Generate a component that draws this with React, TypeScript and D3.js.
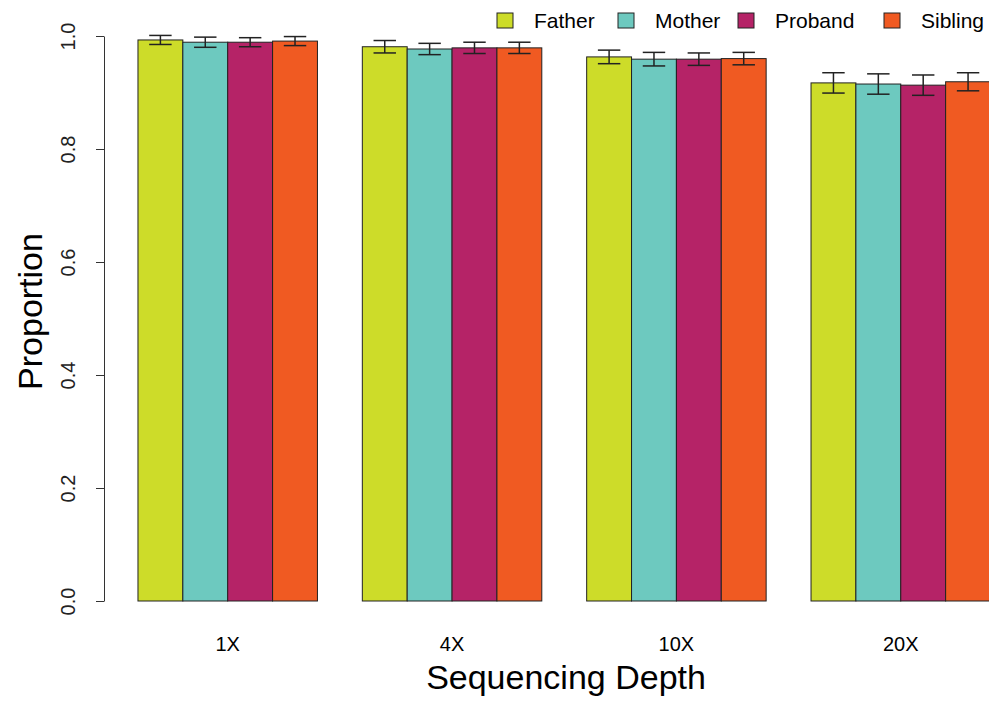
import * as d3 from "d3";
import { useEffect, useRef } from "react";

const depths = ["1X", "4X", "10X", "20X"];
const members = ["Father", "Mother", "Proband", "Sibling"];
const colors = ["#CDDC29", "#6DC9BF", "#B52367", "#F05A22"];

// mean proportion per depth, one array per family member
const father = [0.993, 0.981, 0.963, 0.917];
const mother = [0.989, 0.977, 0.959, 0.915];
const proband = [0.989, 0.979, 0.959, 0.913];
const sibling = [0.991, 0.979, 0.960, 0.919];

// error bar half-widths
const fatherErr = [0.008, 0.011, 0.012, 0.018];
const motherErr = [0.009, 0.010, 0.012, 0.018];
const probandErr = [0.008, 0.010, 0.011, 0.018];
const siblingErr = [0.008, 0.010, 0.011, 0.016];

const yTicks = [0, 0.2, 0.4, 0.6, 0.8, 1.0];

export default function App() {
    const svgRef = useRef<SVGSVGElement | null>(null);

    useEffect(() => {
        if (!svgRef.current) return;
        const svg = d3.select(svgRef.current);
        svg.selectAll("*").remove();

        const width = 989;
        const height = 701;
        const font = "'Liberation Sans', Arial, Helvetica, sans-serif";

        const values = [father, mother, proband, sibling];
        const errs = [fatherErr, motherErr, probandErr, siblingErr];

        // barplot units: each group is 4 bars wide, with 1 bar of space before it
        const x = d3.scaleLinear().domain([0, 20]).range([93.1, 93.1 + 20 * 44.87]);
        const y = d3.scaleLinear().domain([0, 1]).range([601, 36]);

        svg.attr("width", width).attr("height", height);

        const g = svg.append("g");

        depths.forEach((depth, i) => {
            const start = 1 + i * 5;
            members.forEach((m, j) => {
                const v = values[j][i];
                const e = errs[j][i];
                const x0 = x(start + j);
                const x1 = x(start + j + 1);
                g.append("rect")
                    .attr("x", x0)
                    .attr("y", y(v))
                    .attr("width", x1 - x0)
                    .attr("height", y(0) - y(v))
                    .attr("fill", colors[j])
                    .attr("stroke", "#222")
                    .attr("stroke-width", 1);

                const cx = (x0 + x1) / 2;
                const cap = (x1 - x0) / 4;
                const eg = g.append("g")
                    .attr("stroke", "#222")
                    .attr("stroke-width", 1.5);
                eg.append("line")
                    .attr("x1", cx).attr("x2", cx)
                    .attr("y1", y(v + e)).attr("y2", y(v - e));
                eg.append("line")
                    .attr("x1", cx - cap).attr("x2", cx + cap)
                    .attr("y1", y(v + e)).attr("y2", y(v + e));
                eg.append("line")
                    .attr("x1", cx - cap).attr("x2", cx + cap)
                    .attr("y1", y(v - e)).attr("y2", y(v - e));
            });

            // group label
            svg.append("text")
                .attr("x", x(start + 2))
                .attr("y", 651)
                .attr("text-anchor", "middle")
                .style("font-family", font)
                .style("font-size", "20px")
                .text(depth);
        });

        // y axis
        const yAxis = svg.append("g")
            .attr("transform", "translate(104,0)")
            .call(d3.axisLeft(y).tickValues(yTicks).tickSize(8).tickSizeOuter(0).tickPadding(0)
                .tickFormat(d3.format(".1f")));
        yAxis.select(".domain").attr("stroke", "#333");
        yAxis.selectAll(".tick line").attr("stroke", "#333");
        yAxis.selectAll(".tick text")
            .attr("transform", "rotate(-90)")
            .attr("x", 0)
            .attr("y", -36)
            .attr("dy", "0.35em")
            .attr("text-anchor", "middle")
            .attr("fill", "#222")
            .style("font-family", font)
            .style("font-size", "20px");

        // axis titles
        svg.append("text")
            .attr("transform", `translate(42,${y(0.5) - 7}) rotate(-90)`)
            .attr("text-anchor", "middle")
            .style("font-family", font)
            .style("font-size", "34px")
            .text("Proportion");

        svg.append("text")
            .attr("x", x(10.54))
            .attr("y", 689)
            .attr("text-anchor", "middle")
            .style("font-family", font)
            .style("font-size", "34px")
            .text("Sequencing Depth");

        // legend
        const legendX = [497, 618, 738, 884];
        members.forEach((m, j) => {
            svg.append("rect")
                .attr("x", legendX[j])
                .attr("y", 13)
                .attr("width", 16)
                .attr("height", 15)
                .attr("fill", colors[j])
                .attr("stroke", "#222")
                .attr("stroke-width", 1);
            svg.append("text")
                .attr("x", legendX[j] + 37)
                .attr("y", 28)
                .style("font-family", font)
                .style("font-size", "21px")
                .text(m);
        });
    }, []);

    return (
        <svg ref={svgRef} style={{ position: "absolute", left: 0, top: 0 }} />
    );
}
